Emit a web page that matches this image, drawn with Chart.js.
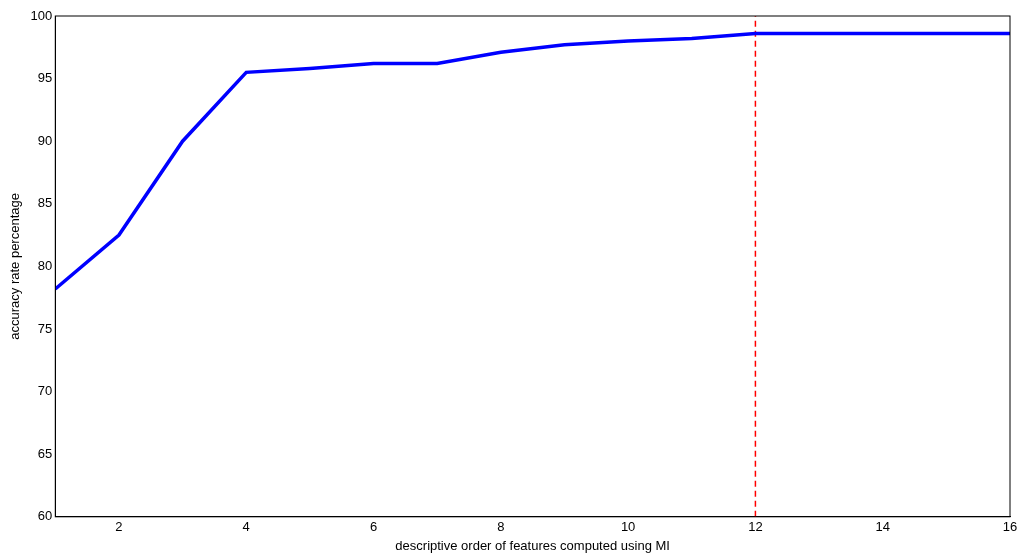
<!DOCTYPE html>
<html>
<head>
<script src="https://cdn.jsdelivr.net/npm/chart.js@4/dist/chart.umd.min.js"></script>
<style>
  html, body { margin: 0; padding: 0; background: #fff; }
  #wrap { width: 1024px; height: 558px; }
</style>
</head>
<body>
<div id="wrap"><canvas id="chart"></canvas></div>
<script>
// data
const featureCounts = [1, 2, 3, 4, 5, 6, 7, 8, 9, 10, 11, 12, 13, 14, 15, 16];
const accuracy = [78.2, 82.5, 90.0, 95.5, 95.8, 96.2, 96.2, 97.1, 97.7, 98.0, 98.2, 98.6, 98.6, 98.6, 98.6, 98.6];
const cutoffX = 12;
const yRange = [60, 100];

const ctx = document.getElementById("chart").getContext("2d");

new Chart(ctx, {
    type: "line",
    data: {
        datasets: [
            {
                data: featureCounts.map((x, i) => ({ x: x, y: accuracy[i] })),
                borderColor: "#0000ff",
                borderWidth: 3.5,
                pointRadius: 0,
                tension: 0
            },
            {
                data: [{ x: cutoffX, y: yRange[0] }, { x: cutoffX, y: yRange[1] }],
                borderColor: "#ff0000",
                borderWidth: 1.5,
                borderDash: [6, 4],
                pointRadius: 0
            }
        ]
    },
    options: {
        responsive: true,
        maintainAspectRatio: false,
        animation: false,
        layout: { padding: { top: 16, right: 14, left: 4, bottom: 0 } },
        plugins: { legend: { display: false }, tooltip: { enabled: false } },
        scales: {
            x: {
                type: "linear",
                min: 1,
                max: 16,
                ticks: {
                    stepSize: 2,
                    callback: v => (v % 2 === 0 ? v : ""),
                    color: "#000",
                    font: { family: "Liberation Sans", size: 13 }
                },
                afterBuildTicks: axis => {
                    axis.ticks = [2, 4, 6, 8, 10, 12, 14, 16].map(v => ({ value: v }));
                },
                grid: { display: false, drawTicks: false },
                border: { color: "#000", width: 1 },
                title: {
                    display: true,
                    text: "descriptive order of features computed using MI",
                    color: "#000",
                    font: { family: "Liberation Sans", size: 13 },
                    padding: { top: 0 }
                }
            },
            y: {
                min: yRange[0],
                max: yRange[1],
                ticks: {
                    stepSize: 5,
                    color: "#000",
                    font: { family: "Liberation Sans", size: 13 }
                },
                grid: { display: false, drawTicks: false },
                border: { color: "#000", width: 1 },
                title: {
                    display: true,
                    text: "accuracy rate percentage",
                    color: "#000",
                    font: { family: "Liberation Sans", size: 13 }
                }
            }
        }
    },
    plugins: [{
        id: "box",
        afterDraw(c) {
            const a = c.chartArea, g = c.ctx;
            g.save();
            g.strokeStyle = "#000";
            g.lineWidth = 1;
            g.strokeRect(a.left, a.top, a.right - a.left, a.bottom - a.top);
            g.restore();
        }
    }]
});
</script>
</body>
</html>
